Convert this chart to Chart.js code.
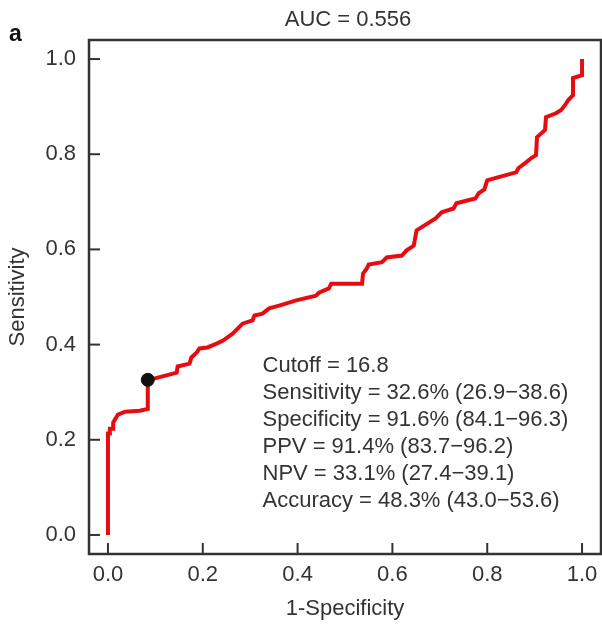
<!DOCTYPE html>
<html>
<head>
<meta charset="utf-8">
<script src="https://cdn.jsdelivr.net/npm/chart.js@4"></script>
<style>
  body { margin: 0; background: #fff; }
  #wrap { width: 602px; height: 625px; position: relative; }
</style>
</head>
<body>
<div id="wrap"><canvas id="rocChart"></canvas></div>
<script>
// ROC curve points
const fpr = [0.000, 0.000, 0.004, 0.004, 0.011, 0.011, 0.021, 0.036, 0.067, 0.084,
             0.084, 0.095, 0.145, 0.147, 0.172, 0.176, 0.187, 0.193, 0.210, 0.229,
             0.242, 0.263, 0.284, 0.305, 0.309, 0.326, 0.340, 0.361, 0.397, 0.439,
             0.445, 0.466, 0.471, 0.536, 0.538, 0.546, 0.550, 0.578, 0.588, 0.620,
             0.630, 0.645, 0.651, 0.691, 0.704, 0.729, 0.735, 0.775, 0.782, 0.794,
             0.800, 0.824, 0.861, 0.866, 0.882, 0.893, 0.903, 0.905, 0.922, 0.924,
             0.945, 0.956, 0.964, 0.971, 0.981, 0.981, 1.000, 1.000];
const tpr = [0.000, 0.213, 0.213, 0.223, 0.223, 0.236, 0.253, 0.259, 0.261, 0.265,
             0.326, 0.328, 0.341, 0.354, 0.360, 0.373, 0.383, 0.392, 0.394, 0.402,
             0.408, 0.423, 0.444, 0.451, 0.461, 0.465, 0.476, 0.482, 0.493, 0.503,
             0.509, 0.518, 0.528, 0.528, 0.549, 0.560, 0.568, 0.573, 0.583, 0.587,
             0.598, 0.608, 0.640, 0.665, 0.678, 0.686, 0.697, 0.707, 0.718, 0.726,
             0.745, 0.752, 0.762, 0.771, 0.783, 0.792, 0.798, 0.836, 0.851, 0.878,
             0.886, 0.893, 0.903, 0.914, 0.924, 0.960, 0.966, 1.000];

// best cutoff point
const cutoffPoint = { x: 0.084, y: 0.326 };

const xTicks = [0, 0.2, 0.4, 0.6, 0.8, 1.0];
const yTicks = [0, 0.2, 0.4, 0.6, 0.8, 1.0];

const plotTitle = "AUC = 0.556";
const statLines = [
  "Cutoff = 16.8",
  "Sensitivity = 32.6% (26.9\u221238.6)",
  "Specificity = 91.6% (84.1\u221296.3)",
  "PPV = 91.4% (83.7\u221296.2)",
  "NPV = 33.1% (27.4\u221239.1)",
  "Accuracy = 48.3% (43.0\u221253.6)"
];
const statAnchor = { x: 0.326, y: 0.356 };

const FONT = "'Liberation Sans', Arial, Helvetica, sans-serif";
const TEXT = "#333333";

// frame, inward ticks, title over the panel, panel letter and stats text
const framePlugin = {
  id: 'frame',
  afterDatasetsDraw(chart) {
    const { ctx, chartArea: a, scales } = chart;
    ctx.save();
    ctx.strokeStyle = "#333333";
    ctx.lineWidth = 2.5;
    ctx.strokeRect(a.left, a.top, a.right - a.left, a.bottom - a.top);

    ctx.lineWidth = 2;
    xTicks.forEach(v => {
      const px = scales.x.getPixelForValue(v);
      ctx.beginPath(); ctx.moveTo(px, a.bottom); ctx.lineTo(px, a.bottom - 11); ctx.stroke();
    });
    yTicks.forEach(v => {
      const py = scales.y.getPixelForValue(v);
      ctx.beginPath(); ctx.moveTo(a.left, py); ctx.lineTo(a.left + 11, py); ctx.stroke();
    });

    ctx.fillStyle = TEXT;
    ctx.font = "22px " + FONT;
    ctx.textBaseline = "middle";
    ctx.textAlign = "center";
    ctx.fillText(plotTitle, (a.left + a.right) / 2 + 3, a.top - 20);

    ctx.textAlign = "left";
    const sx = scales.x.getPixelForValue(statAnchor.x);
    const sy = scales.y.getPixelForValue(statAnchor.y);
    statLines.forEach((t, i) => ctx.fillText(t, sx, sy + i * 27));

    ctx.fillStyle = "#111";
    ctx.font = "bold 23px " + FONT;
    ctx.fillText("a", 9, 35);
    ctx.restore();
  }
};

new Chart(document.getElementById('rocChart'), {
  type: 'scatter',
  data: {
    datasets: [{
      data: fpr.map((x, i) => ({ x: x, y: tpr[i] })),
      showLine: true,
      borderColor: 'rgb(230,12,18)',
      borderWidth: 4,
      pointRadius: 0,
      tension: 0,
      order: 2
    }, {
      data: [cutoffPoint],
      pointRadius: 6.5,
      pointBackgroundColor: '#111',
      pointBorderColor: '#111',
      order: 1
    }]
  },
  options: {
    responsive: true,
    maintainAspectRatio: false,
    animation: false,
    layout: { autoPadding: false, padding: { left: 5, right: 1, top: 40, bottom: 3 } },
    plugins: {
      legend: { display: false },
      tooltip: { enabled: false },
      title: { display: false }
    },
    scales: {
      x: {
        type: 'linear',
        min: -0.04,
        max: 1.04,
        afterBuildTicks: axis => { axis.ticks = xTicks.map(v => ({ value: v })); },
        afterFit: axis => { axis.paddingLeft = 0; axis.paddingRight = 0; axis.height = 68; },
        grid: { display: false, drawTicks: false },
        border: { display: false },
        ticks: {
          color: TEXT,
          font: { family: FONT, size: 22 },
          padding: 8,
          maxRotation: 0,
          callback: v => v.toFixed(1)
        },
        title: {
          display: true,
          text: '1-Specificity',
          color: TEXT,
          font: { family: FONT, size: 22 },
          padding: { top: 7, bottom: 0 }
        }
      },
      y: {
        type: 'linear',
        min: -0.04,
        max: 1.04,
        afterBuildTicks: axis => { axis.ticks = yTicks.map(v => ({ value: v })); },
        afterFit: axis => { axis.paddingTop = 0; axis.paddingBottom = 0; axis.width = 84; },
        grid: { display: false, drawTicks: false },
        border: { display: false },
        ticks: {
          color: TEXT,
          font: { family: FONT, size: 22 },
          padding: 13,
          callback: v => v.toFixed(1)
        },
        title: {
          display: true,
          text: 'Sensitivity',
          color: TEXT,
          font: { family: FONT, size: 22 },
          padding: { top: 0, bottom: 14 }
        }
      }
    }
  },
  plugins: [framePlugin]
});
</script>
</body>
</html>
